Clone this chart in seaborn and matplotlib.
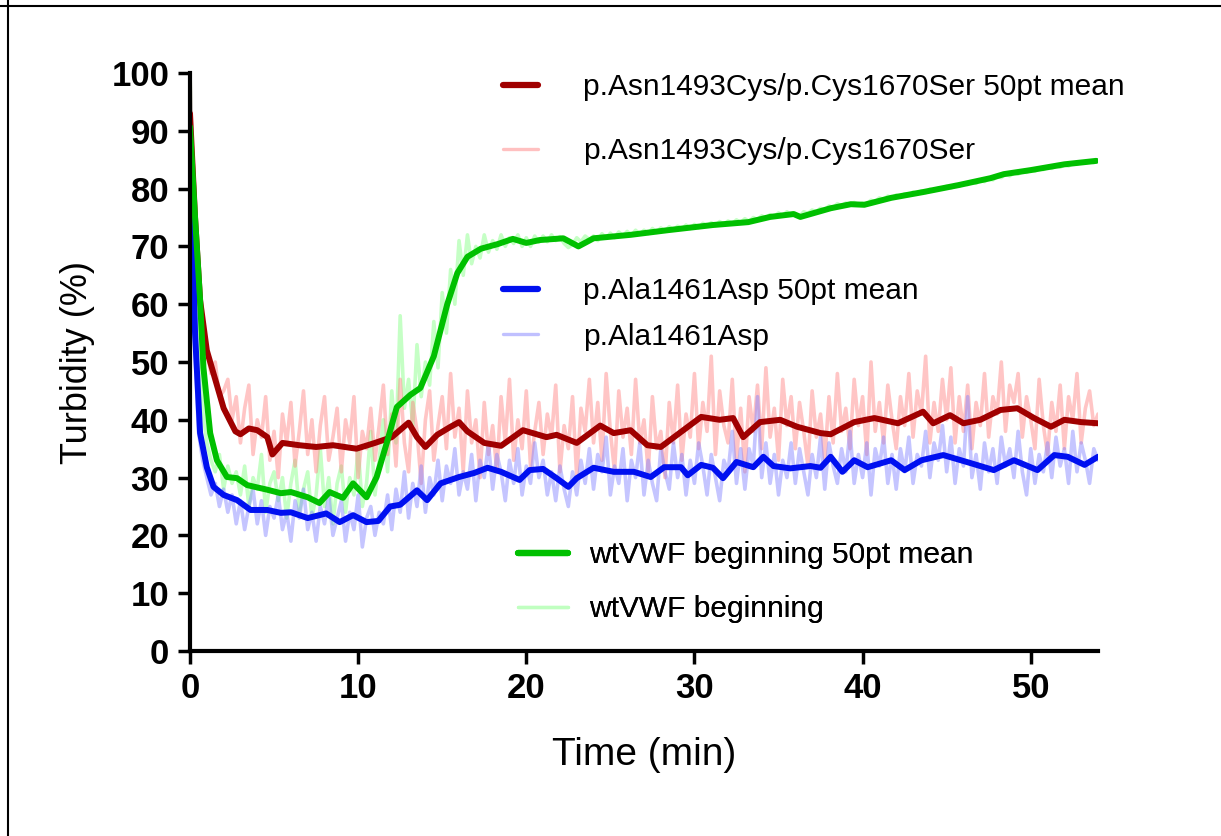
import numpy as np
import matplotlib
matplotlib.use("Agg")
import matplotlib.pyplot as plt
from matplotlib.lines import Line2D
import seaborn as sns

# raw traces, one reading every 0.25 min from 0 to 54 min
raw_time = np.arange(217) * 0.25

red_raw = [
    100, 70, 60, 54, 52, 48, 50, 44, 45, 47, 40, 44,
    36, 42, 46, 34, 40, 37, 44, 33, 38, 30, 41, 36,
    43, 32, 38, 45, 34, 40, 31, 39, 44, 33, 37, 42,
    31, 40, 36, 44, 30, 38, 35, 42, 33, 39, 46, 34,
    41, 32, 47, 36, 31, 43, 38, 29, 40, 45, 33, 39,
    44, 35, 48, 37, 42, 31, 45, 36, 40, 30, 43, 34,
    39, 31, 44, 36, 47, 33, 40, 35, 45, 32, 38, 43,
    34, 41, 37, 46, 31, 39, 35, 44, 30, 42, 38, 47,
    36, 43, 33, 48, 38, 31, 45, 37, 42, 34, 47, 36,
    40, 31, 44, 35, 38, 30, 43, 36, 46, 33, 41, 37,
    48, 35, 43, 38, 51, 34, 45, 39, 36, 47, 33, 42,
    31, 44, 38, 46, 35, 49, 37, 42, 33, 47, 39, 44,
    35, 43, 38, 32, 45, 37, 41, 33, 44, 36, 48, 38,
    42, 35, 47, 39, 44, 34, 50, 38, 43, 36, 46, 40,
    35, 44, 39, 48, 37, 45, 41, 51, 36, 43, 38, 47,
    40, 49, 36, 44, 38, 46, 35, 43, 39, 48, 37, 44,
    41, 50, 38, 46, 43, 48, 37, 44, 40, 35, 47, 39,
    34, 43, 38, 46, 35, 44, 40, 48, 36, 42, 45, 39,
    41,
]

blue_raw = [
    100, 55, 38, 33, 30, 27, 29, 25, 28, 24, 27, 22,
    26, 21, 25, 28, 22, 26, 20, 25, 23, 27, 21, 24,
    19, 26, 23, 28, 21, 24, 19, 25, 22, 27, 20, 23,
    26, 19, 24, 21, 27, 18, 23, 25, 20, 24, 22, 27,
    21, 28, 24, 31, 23, 29, 25, 32, 24, 30, 27, 33,
    26, 32, 29, 35, 27, 31, 28, 34, 26, 33, 30, 36,
    28, 34, 31, 26, 33, 29, 35, 27, 32, 29, 36, 30,
    33, 27, 31, 26, 32, 28, 25, 31, 27, 33, 29, 35,
    28, 34, 31, 37, 27, 32, 29, 35, 26, 33, 30, 36,
    27, 33, 29, 26, 35, 31, 28, 36, 30, 34, 27, 33,
    29, 36, 32, 27, 34, 30, 26, 33, 31, 38, 29, 35,
    28, 35, 32, 44, 30, 36, 29, 34, 27, 33, 30, 36,
    29, 35, 31, 27, 34, 30, 37, 28, 36, 32, 29, 35,
    31, 38, 29, 34, 30, 36, 27, 35, 32, 37, 29, 34,
    28, 35, 31, 37, 29, 34, 32, 38, 30, 36, 33, 39,
    31, 37, 29, 35, 32, 44, 30, 34, 28, 36, 31, 35,
    29, 37, 32, 35, 30, 38, 31, 27, 35, 29, 34, 31,
    36, 30, 37, 32, 35, 29, 38, 31, 36, 33, 29, 35,
    33,
]

green_raw = [
    100, 72, 55, 42, 36, 33, 31, 34, 28, 32, 29, 31,
    27, 32, 25, 30, 28, 34, 24, 29, 31, 26, 30, 23,
    29, 33, 24, 28, 31, 23, 27, 35, 25, 30, 22, 29,
    32, 24, 30, 27, 35, 25, 29, 38, 27, 33, 40, 31,
    45, 36, 58, 42, 47, 39, 53, 44, 50, 46, 57, 49,
    62, 55, 66, 60, 71, 65, 72, 67, 70, 68, 72, 69,
    71, 69.5, 72, 70, 71.5, 70.5, 72, 70, 71.5, 70, 71.8, 70.7,
    71.8, 70.8, 72, 71, 71.7, 70.5, 69.8, 70.3, 71.5, 70.8, 71.8, 71.2,
    71.8, 71, 72.2, 71.4, 72.3, 71.5, 72.5, 71.8, 72.6, 71.9, 72.8, 72.1,
    72.8, 72.2, 73.1, 72.4, 73.2, 72.6, 73.4, 72.8, 73.5, 73, 73.7, 73.1,
    73.8, 73.2, 74, 73.5, 74.1, 73.6, 74.3, 73.8, 74.4, 73.9, 74.6, 74.1,
    74.8, 74.3, 75, 74.6, 75.3, 74.9, 75.5, 75.1, 75.8, 75.3, 76, 75.4,
    75.6, 75.2, 76, 75.7, 76.3, 76, 76.6, 76.3, 77, 76.7, 77.4, 77,
    77.5, 77.1, 77.6, 77.2, 77.5, 77.3, 78, 77.7, 78.4, 78.1, 78.7, 78.4,
    78.9, 78.6, 79.1, 78.8, 79.4, 79.1, 79.6, 79.3, 79.9, 79.6, 80.1, 79.9,
    80.4, 80.1, 80.7, 80.4, 80.9, 80.7, 81.2, 80.9, 81.5, 81.2, 81.8, 81.5,
    82.1, 81.9, 82.5, 82.2, 82.7, 82.5, 83, 82.8, 83.2, 83, 83.5, 83.3,
    83.7, 83.5, 83.9, 83.7, 84.1, 83.9, 84.4, 84.2, 84.6, 84.4, 84.7, 84.5,
    84.9,
]

# 50pt running means
red_mean_t = [0, 0.3, 0.6, 1.0, 1.4, 2.0, 2.7, 3.0, 3.5, 4.0, 4.6, 4.9, 5.5, 6.5,
              7.5, 8.5, 9.9, 11, 12, 13, 13.5, 14, 14.7, 15.5, 16, 16.5, 17.5,
              18.5, 19.8, 21.2, 21.8, 23, 24.4, 25.2, 26.2, 27.2, 28, 29.2, 30.4,
              31.5, 32.3, 32.9, 33.9, 35.1, 36.1, 37.5, 38.1, 39.5, 40.7, 42.1,
              43.6, 44.2, 45.2, 46, 47, 48.2, 49.2, 50.2, 51.2, 52, 53, 54]
red_mean_v = [93, 75, 60.7, 52, 48, 42, 38, 37.5, 38.5, 38.2, 37, 34, 36, 35.6,
              35.3, 35.6, 35, 36, 37, 39.5, 37, 35.3, 37.4, 38.8, 39.6, 38, 36,
              35.5, 38.2, 37, 37.4, 36, 39, 37.7, 38.2, 35.6, 35.3, 37.9, 40.5,
              40, 40.3, 37, 39.6, 40, 38.8, 37.7, 37.5, 39.6, 40.3, 39.4,
              41.4, 39.4, 40.8, 39.4, 40, 41.7, 42, 40.3, 38.8, 40, 39.6, 39.4]

blue_mean_t = [0, 0.3, 0.6, 1.0, 1.4, 2.0, 2.8, 3.6, 4.6, 5.4, 6.0, 7.0, 8.1, 8.9,
               9.7, 10.5, 11.2, 11.9, 12.5, 13.5, 14.1, 14.9, 16, 16.9, 17.7,
               18.5, 19.6, 20.2, 21, 21.8, 22.5, 23, 24, 25.2, 26.4, 27.4, 28.2,
               29.2, 29.6, 30.4, 31.1, 31.7, 32.5, 33.5, 34.1, 34.7, 35.7, 36.9,
               37.5, 38.1, 38.8, 39.5, 40.3, 41.7, 42.5, 43.5, 44.8, 46.2, 47.8,
               49, 50.4, 51.4, 52.2, 53.2, 54]
blue_mean_v = [88, 55, 37.7, 31.8, 28.4, 27, 26.1, 24.4, 24.4, 23.9, 24, 23, 23.8,
               22.3, 23.5, 22.3, 22.5, 25, 25.3, 27.8, 26.1, 29, 30.1, 30.8, 31.7,
               31, 29.6, 31.3, 31.5, 29.9, 28.4, 29.9, 31.7, 31, 31, 30.1, 31.8,
               31.8, 30.4, 32.2, 31.7, 29.9, 32.7, 31.8, 33.6, 32, 31.6, 32,
               31.7, 33.6, 31, 33, 31.8, 33, 31.3, 33, 33.9, 32.7, 31.3,
               33, 31.3, 33.9, 33.6, 32.2, 33.6]

green_mean_t = [0, 0.3, 0.6, 0.8, 1.2, 1.6, 2.2, 2.8, 3.4, 4.6, 5.4, 6.0, 7.0, 7.7,
                8.3, 9.1, 9.7, 10.5, 11.1, 11.7, 12.3, 13.1, 13.7, 14.5, 15.3,
                15.9, 16.5, 17.3, 18.3, 19.2, 20, 20.8, 22.2, 23.1, 24, 26.2,
                28.4, 31.1, 33.2, 34.5, 35.9, 36.3, 38.1, 39.3, 40.1, 41.7, 43.6,
                45.7, 47.6, 48.4, 50, 52, 53.9]
green_mean_v = [90.7, 75, 60.7, 49, 37.7, 33, 30.1, 29.9, 28.7, 27.9, 27.3, 27.5,
                26.6, 25.6, 27.5, 26.5, 29, 26.6, 30.1, 36, 42.2, 44.3, 45.5, 51,
                60, 65.4, 68.2, 69.6, 70.4, 71.3, 70.6, 71.1, 71.4, 70, 71.4, 72,
                72.8, 73.7, 74.2, 75.1, 75.6, 75.1, 76.6, 77.3, 77.2, 78.4, 79.4,
                80.6, 81.8, 82.5, 83.2, 84.2, 84.8]

labels_red = ["p.Asn1493Cys/p.Cys1670Ser 50pt mean", "p.Asn1493Cys/p.Cys1670Ser"]
labels_blue = ["p.Ala1461Asp 50pt mean", "p.Ala1461Asp"]
labels_green = ["wtVWF beginning 50pt mean", "wtVWF beginning"]

sns.set_theme(style="ticks")
plt.rcParams["font.family"] = ["Liberation Sans", "DejaVu Sans"]
plt.rcParams["text.color"] = "black"
plt.rcParams["axes.labelcolor"] = "black"
plt.rcParams["xtick.color"] = "black"
plt.rcParams["ytick.color"] = "black"

fig = plt.figure(figsize=(12.21, 8.36), dpi=100)
ax = fig.add_axes([190 / 1221, 1 - 651 / 836, 908 / 1221, 578 / 836])

raw_lw = 2.6
mean_lw = 4.3

# raw traces first, then the running means on top
sns.lineplot(x=raw_time, y=green_raw, ax=ax, color="#80FF80", alpha=0.45)
sns.lineplot(x=raw_time, y=red_raw, ax=ax, color="#FF8080", alpha=0.45)
sns.lineplot(x=raw_time, y=blue_raw, ax=ax, color="#8080FF", alpha=0.45)
sns.lineplot(x=red_mean_t, y=red_mean_v, ax=ax, color="#A00000")
sns.lineplot(x=blue_mean_t, y=blue_mean_v, ax=ax, color="#0010F0")
sns.lineplot(x=green_mean_t, y=green_mean_v, ax=ax, color="#00C000")
for i, line in enumerate(ax.lines):
    line.set_linewidth(raw_lw if i < 3 else mean_lw)
    line.set_solid_joinstyle("round")

ax.set_xlim(0, 54)
ax.set_ylim(0, 100)
ax.set_xticks(np.arange(0, 51, 10))
ax.set_yticks(np.arange(0, 101, 10))
sns.despine(ax=ax)
for side in ["left", "bottom"]:
    ax.spines[side].set_linewidth(3)
    ax.spines[side].set_color("black")
ax.tick_params(axis="both", width=2.5, length=9, colors="black", labelsize=25, pad=6)
for lab in ax.get_xticklabels() + ax.get_yticklabels():
    lab.set_fontweight("bold")
ax.set_xlabel("Time (min)", fontsize=28, labelpad=23, color="black")
ax.set_ylabel("Turbidity (%)", fontsize=26, labelpad=12, color="black")


def add_legend(handles, labels, x, y, hl, pad, spacing):
    leg = ax.legend(handles, labels, loc="upper left", bbox_to_anchor=(x, y),
                    bbox_transform=fig.transFigure, frameon=False, fontsize=21.5,
                    handlelength=hl, handletextpad=pad, labelspacing=spacing,
                    borderpad=0, borderaxespad=0, labelcolor="black")
    ax.add_artist(leg)


handles = [Line2D([], [], color="#A00000", lw=4.5), Line2D([], [], color="#FFC0C0", lw=2.4)]
add_legend(handles, labels_red, 503 / 1221, 1 - 73 / 836, 1.17, 1.5, 1.22)
handles = [Line2D([], [], color="#0010F0", lw=4.5), Line2D([], [], color="#C0C0FF", lw=2.4)]
add_legend(handles, labels_blue, 503 / 1221, 1 - 277 / 836, 1.17, 1.5, 0.6)
handles = [Line2D([], [], color="#00C000", lw=4.5), Line2D([], [], color="#C0FFC0", lw=2.4)]
add_legend(handles, labels_green, 518 / 1221, 1 - 541 / 836, 1.67, 0.72, 0.87)

# frame lines along the top and left edge of the picture
fig.add_artist(Line2D([0, 1], [1 - 6 / 836, 1 - 6 / 836], color="black", lw=1.5, transform=fig.transFigure))
fig.add_artist(Line2D([8 / 1221, 8 / 1221], [0, 1], color="black", lw=1.5, transform=fig.transFigure))

fig.savefig("out.png", dpi=100)
